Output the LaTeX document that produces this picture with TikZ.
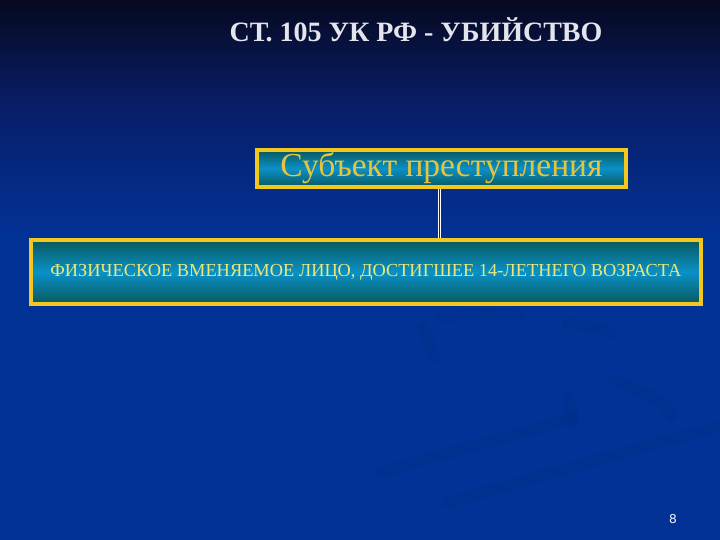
\documentclass[tikz,border=0pt]{standalone}
\usepackage{fontspec}
\setmainfont{Liberation Serif}
\newfontfamily\numfont{Liberation Sans}
\definecolor{bgblue}{RGB}{2,50,150}
\definecolor{bgmid}{RGB}{8,30,105}
\definecolor{bgtop}{RGB}{6,9,32}
\definecolor{frameyellow}{RGB}{242,200,30}
\definecolor{boxdark}{RGB}{8,88,92}
\definecolor{boxlight}{RGB}{10,145,200}
\definecolor{titlegray}{RGB}{228,228,236}
\definecolor{textgold}{RGB}{232,196,60}
\definecolor{textpale}{RGB}{236,232,120}
\definecolor{markblue}{RGB}{0,40,125}
\pgfdeclareverticalshading{bgshade}{100bp}{color(0bp)=(bgblue); color(25bp)=(bgblue); color(53bp)=(bgblue); color(65bp)=(bgmid); color(75bp)=(bgtop); color(100bp)=(bgtop)}
\tikzset{
  framebox/.style={draw=frameyellow, line width=4pt, inner sep=0pt, rectangle,
    top color=boxdark, bottom color=boxdark, middle color=boxlight},
  wmark/.style={draw=markblue, line width=11pt, opacity=0.18, line cap=round},
  link/.style={draw=white, line width=1pt, double=bgblue!80!black, double distance=1.4pt}
}
\begin{document}
\begin{tikzpicture}[x=1pt,y=-1pt]
\useasboundingbox (0,0) rectangle (720,540);
\shade[shading=bgshade] (0,0) rectangle (720,540);
% faint watermark swoosh
\draw[wmark] (382,472) .. controls (470,445) and (540,430) .. (573,417);
\draw[wmark] (447,503) .. controls (560,470) and (650,445) .. (717,427);
\draw[wmark] (423,328) .. controls (428,340) and (432,350) .. (434,358);
\draw[wmark] (567,323) .. controls (585,325) and (600,328) .. (612,333);
\draw[wmark] (568,398) .. controls (570,408) and (572,416) .. (573,423);
\draw[wmark] (614,380) .. controls (640,390) and (665,400) .. (672,416);
\draw[wmark] (440,318) .. controls (470,312) and (500,312) .. (520,316);
% title
\node[text=titlegray, font=\bfseries\fontsize{28}{32}\selectfont] (title) at (416,30) {СТ. 105 УК РФ - УБИЙСТВО};
% boxes
\node[framebox, minimum width=369pt, minimum height=37pt, text=textgold,
  font=\fontsize{33.5}{36}\selectfont] (subj) at (441.5,168.5) {Субъект преступления};
\node[framebox, minimum width=670pt, minimum height=64pt, text=textpale] (phys) at (366,272)
  {\resizebox{631pt}{!}{\fontsize{16}{18}\selectfont ФИЗИЧЕСКОЕ ВМЕНЯЕМОЕ ЛИЦО, ДОСТИГШЕЕ 14-ЛЕТНЕГО ВОЗРАСТА}};
\draw[link] (subj.south -| 439.5,0) -- (phys.north -| 439.5,0);
% page number
\node[text=white, font=\numfont\fontsize{13}{15}\selectfont] (pagenum) at (673,519) {8};
\end{tikzpicture}
\end{document}
